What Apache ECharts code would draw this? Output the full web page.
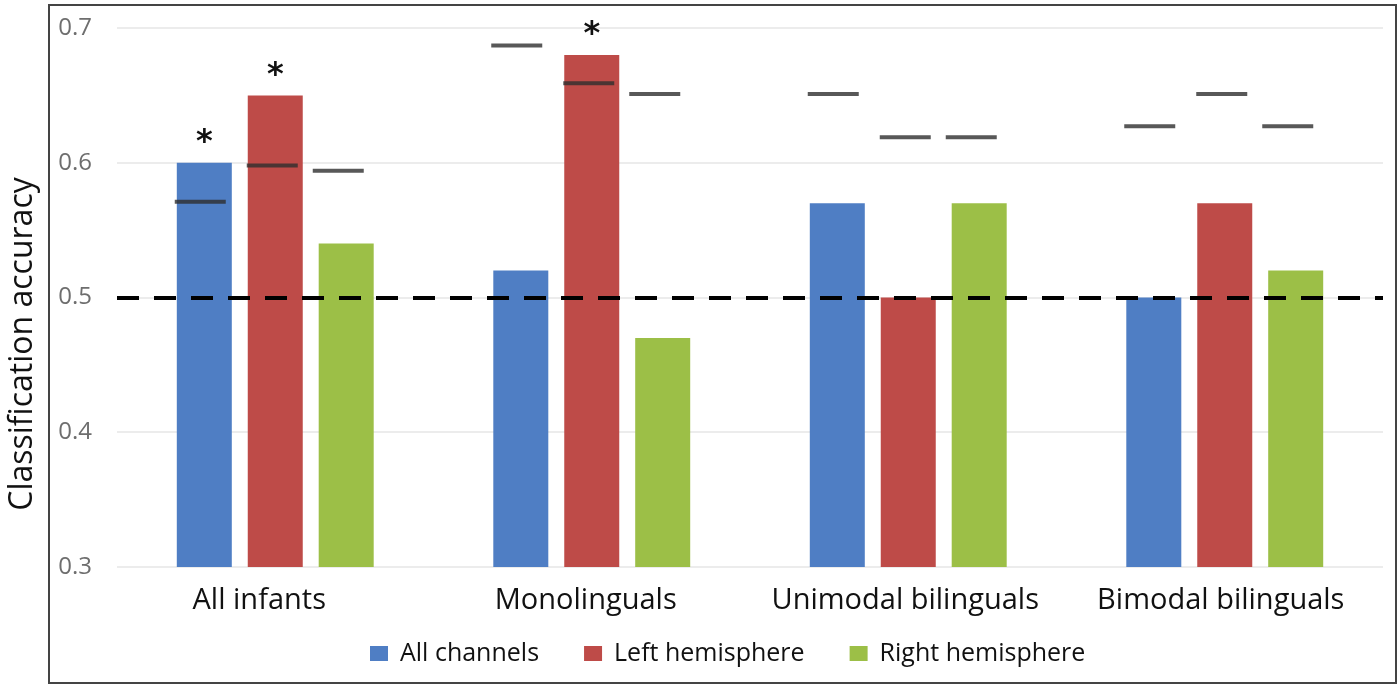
<!DOCTYPE html>
<html>
<head>
<meta charset="utf-8">
<script src="https://cdn.jsdelivr.net/npm/echarts@6/dist/echarts.min.js"></script>
<style>
html,body{margin:0;padding:0;background:#fff;}
#chart{width:1400px;height:689px;}
</style>
</head>
<body>
<div id="chart"></div>
<script>
const categories = ['All infants', 'Monolinguals', 'Unimodal bilinguals', 'Bimodal bilinguals'];
const seriesNames = ['All channels', 'Left hemisphere', 'Right hemisphere'];
const allChannels = [0.60, 0.52, 0.57, 0.50];
const leftHemisphere = [0.65, 0.68, 0.50, 0.57];
const rightHemisphere = [0.54, 0.47, 0.57, 0.52];
const thrAllChannels = [0.571, 0.687, 0.651, 0.627];
const thrLeft = [0.598, 0.659, 0.619, 0.651];
const thrRight = [0.594, 0.651, 0.619, 0.627];
const sigAllChannels = [true, false, false, false];
const sigLeft = [true, true, false, false];
const sigRight = [false, false, false, false];
const chanceLevel = 0.5;
const yTicks = [0.3, 0.4, 0.5, 0.6, 0.7];

const colors = ['#4F7EC4', '#BE4B48', '#9CBF47'];
const font = '"Open Sans", "Noto Sans", sans-serif';
const labelShift = [32, 12, 6, 8]; // right padding (px) to nudge category labels left

function barData(vals, sig) {
  return vals.map((v, i) => sig[i] ? {
    value: v,
    label: { show: true, position: 'top', distance: 4, formatter: '*', fontSize: 32, fontWeight: 'bold', color: '#111', fontFamily: 'DejaVu Sans' }
  } : v);
}

const chart = echarts.init(document.getElementById('chart'));
const barBase = { type: 'bar', barWidth: 55, barGap: '29%', z: 2 };
const thrBase = { type: 'scatter', symbol: 'rect', symbolSize: [51, 4], itemStyle: { color: '#2e2e2e' }, z: 5, silent: true, legendHoverLink: false };

chart.setOption({
  animation: false,
  color: colors,
  grid: { left: 117, right: 17, top: 28, bottom: 122 },
  legend: {
    data: seriesNames,
    left: 365, top: 636,
    itemWidth: 18, itemHeight: 15, itemGap: 45,
    icon: 'rect',
    textStyle: { fontSize: 25, color: '#111', fontFamily: font, padding: [0, 0, 0, 7] }
  },
  xAxis: {
    type: 'category',
    data: categories.map((c, i) => ({ value: c, textStyle: { padding: [0, labelShift[i], 0, 0] } })),
    axisLine: { show: false }, axisTick: { show: false },
    axisLabel: { interval: 0, hideOverlap: false, fontSize: 29, color: '#111', margin: 19, fontFamily: font }
  },
  yAxis: {
    type: 'value', min: yTicks[0], max: yTicks[yTicks.length - 1], interval: 0.1,
    axisLine: { show: false }, axisTick: { show: false },
    axisLabel: { fontSize: 24, color: '#6e6e6e', margin: 25, fontFamily: font, formatter: v => v.toFixed(1) },
    splitLine: { show: true, lineStyle: { color: '#ececec', width: 2 } }
  },
  graphic: [
    { type: 'rect', shape: { x: 49, y: 5, width: 1347, height: 678 }, style: { fill: 'none', stroke: '#444', lineWidth: 2 }, z: 100 },
    { type: 'text', x: 23, y: 344, rotation: Math.PI / 2,
      style: { text: 'Classification accuracy', fill: '#111', font: '32px "Open Sans", sans-serif', align: 'center', verticalAlign: 'middle' } }
  ],
  series: [
    Object.assign({}, barBase, { name: seriesNames[0], data: barData(allChannels, sigAllChannels),
      markLine: { silent: true, symbol: 'none', label: { show: false },
        lineStyle: { color: '#000', width: 4, type: [22, 15] }, data: [{ yAxis: chanceLevel }], z: 10 } }),
    Object.assign({}, barBase, { name: seriesNames[1], data: barData(leftHemisphere, sigLeft) }),
    Object.assign({}, barBase, { name: seriesNames[2], data: barData(rightHemisphere, sigRight) }),
    Object.assign({}, thrBase, { name: 'thr0', data: thrAllChannels, symbolOffset: [-75, 0] }),
    Object.assign({}, thrBase, { name: 'thr1', data: thrLeft, symbolOffset: [-3, 0] }),
    Object.assign({}, thrBase, { name: 'thr2', data: thrRight, symbolOffset: [63, 0] })
  ]
});
</script>
</body>
</html>
